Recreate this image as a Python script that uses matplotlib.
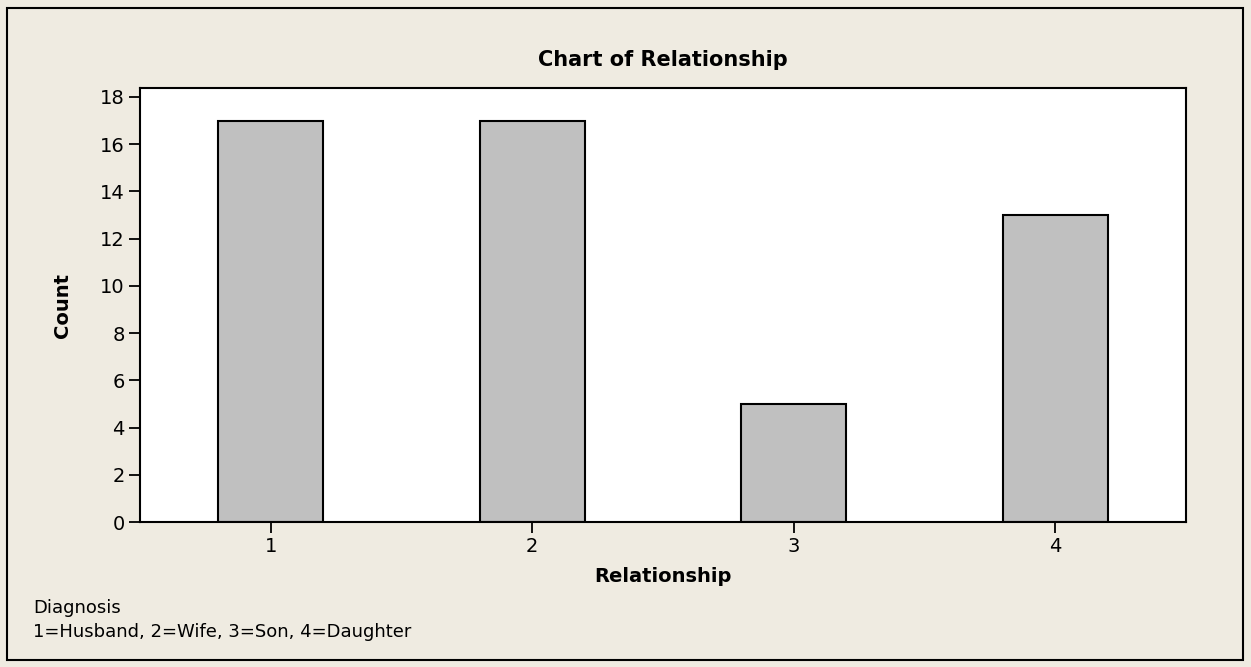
import matplotlib.pyplot as plt
from matplotlib.patches import Rectangle

# Anzahl je Beziehung (Minitab-Balkendiagramm)
categories = ["1", "2", "3", "4"]
counts = [17, 17, 5, 13]
y_ticks = [0, 2, 4, 6, 8, 10, 12, 14, 16, 18]
title = "Chart of Relationship"
x_label = "Relationship"
y_label = "Count"
footnote = ["Diagnosis", "1=Husband, 2=Wife, 3=Son, 4=Daughter"]

bg = "#EFEBE1"
W, H = 1251, 667

fig = plt.figure(figsize=(W / 100, H / 100), dpi=100, facecolor=bg)
ax = fig.add_axes([140 / W, 1 - 522 / H, (1186 - 140) / W, (522 - 88) / H])
ax.set_facecolor("white")

pos = list(range(1, len(categories) + 1))
ax.bar(pos, counts, width=0.4, color="#C0C0C0", edgecolor="black", linewidth=1.5)

ax.set_xlim(0.5, 4.5)
ax.set_ylim(0, 18.38)
ax.set_xticks(pos)
ax.set_xticklabels(categories)
ax.set_yticks(y_ticks)
ax.tick_params(direction="out", length=8, width=1.3, labelsize=14, pad=3)
for s in ax.spines.values():
    s.set_linewidth(1.5)

ax.set_xlabel(x_label, fontsize=14, fontweight="bold", labelpad=8)
ax.set_ylabel(y_label, fontsize=14, fontweight="bold", labelpad=20)
fig.text(0.53, 1 - 60 / H, title, ha="center", va="center",
         fontsize=15, fontweight="bold")

fig.text(33 / W, 1 - 608 / H, footnote[0], ha="left", va="center", fontsize=13)
fig.text(33 / W, 1 - 632 / H, footnote[1], ha="left", va="center", fontsize=13)

# Rahmen um die ganze Grafik
fig.add_artist(Rectangle((7 / W, 7 / H), (W - 15) / W, (H - 15) / H,
                         transform=fig.transFigure, fill=False,
                         edgecolor="black", linewidth=1.5))

fig.savefig("out.png", dpi=100, facecolor=bg)
